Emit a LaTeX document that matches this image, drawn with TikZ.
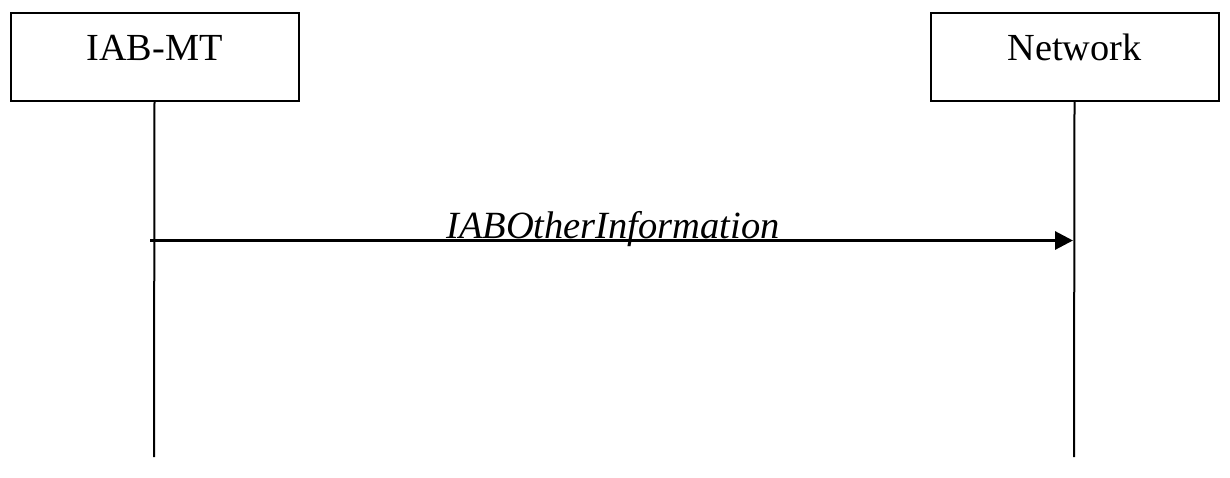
\documentclass[tikz,border=0pt]{standalone}
\usepackage{fontspec}
\setmainfont{Liberation Serif}
\usetikzlibrary{arrows.meta}
\begin{document}
\begin{tikzpicture}[x=1pt,y=-1pt,
  entity/.style={draw,line width=2pt,minimum width=288pt,minimum height=88pt,inner sep=0pt,font=\fontsize{38.3}{46}\selectfont,anchor=north west},
  lifeline/.style={line width=2pt},
  msg/.style={line width=3pt,-{Triangle[length=18pt,width=18pt]}},
  msglabel/.style={font=\fontsize{38.5}{46}\selectfont\itshape,inner sep=0pt,anchor=base}]
\useasboundingbox (0,0) rectangle (1230,477);
\node[entity] (mt) at (9.5,11.5) {\raisebox{18pt}{IAB-MT}};
\node[entity] (nw) at (929.5,11.5) {\raisebox{18pt}{Network}};
\coordinate (mtend) at (154,457);
\coordinate (nwend) at (1074,457);
\draw[lifeline] (mt.south) -- (mtend);
\draw[lifeline] (nw.south) -- (nwend);
\coordinate (a) at (150,240.5);
\coordinate (b) at (1073,240.5);
\draw[msg] (a) -- (b);
\node[msglabel] (lab) at (613,238) {IABOtherInformation};
\end{tikzpicture}
\end{document}
